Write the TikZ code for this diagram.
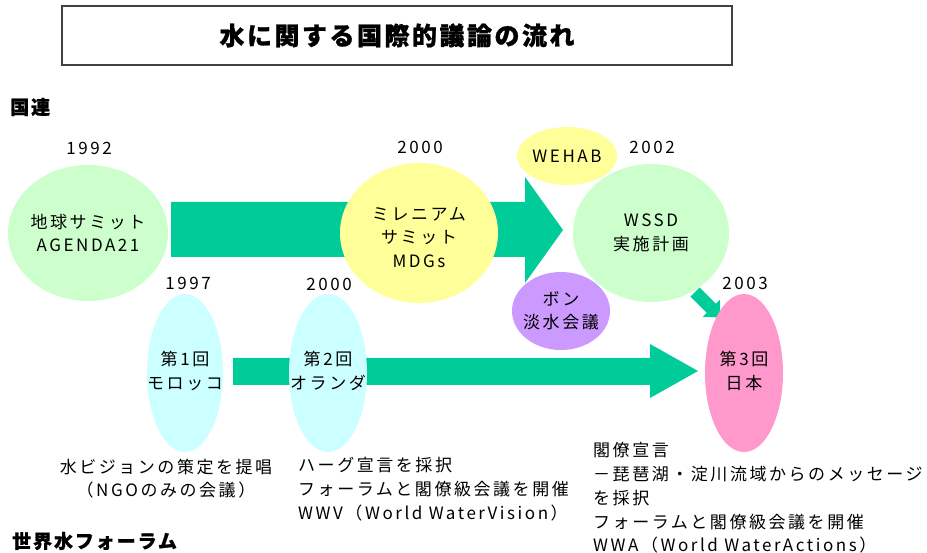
\documentclass[tikz,border=0pt]{standalone}
\usepackage{fontspec}
\newfontfamily\jp{Noto Sans CJK JP}[LetterSpace=15]
\newfontfamily\jpb{Noto Sans CJK JP}[LetterSpace=10, BoldFeatures={FakeBold=0.8}]
\newfontfamily\jpt{Noto Sans CJK JP}[LetterSpace=10, BoldFeatures={FakeBold=1}]
\usetikzlibrary{shapes.geometric}
\definecolor{arrowgreen}{HTML}{00CC99}
\definecolor{lgreen}{HTML}{CCFFCC}
\definecolor{lyellow}{HTML}{FFFF99}
\definecolor{lcyan}{HTML}{CCFFFF}
\definecolor{lpurple}{HTML}{CC99FF}
\definecolor{lpink}{HTML}{FF99CC}
\definecolor{boxgray}{HTML}{404040}
\tikzset{
  txt/.style={font={\jp\fontsize{17}{23.5}\selectfont}, inner sep=0pt, text=black, align=center},
  blob/.style={ellipse, inner sep=0pt},
  lbl/.style={font={\jpb\bfseries\fontsize{19}{22}\selectfont}, inner sep=0pt},
  titlebox/.style={draw=boxgray, line width=2.5pt, fill=white, inner sep=0pt,
    minimum width=670pt, minimum height=59pt,
    font={\jpt\bfseries\fontsize{25}{28}\selectfont}},
  bigarrow/.style={fill=arrowgreen}
}
\begin{document}
\begin{tikzpicture}[x=1pt,y=-1pt]
\useasboundingbox (0,0) rectangle (927,553);
\fill[white] (0,0) rectangle (927,553);

% title and section labels
\node[titlebox] (title) at (397,35.5) {水に関する国際的議論の流れ};
\node[lbl, anchor=west] (un) at (10,107) {国連};
\node[lbl, anchor=west] (wwf) at (12,541) {世界水フォーラム};

% block arrows
\fill[bigarrow] (171,202) -- (525,202) -- (525,177) -- (563,230) -- (525,283) -- (525,257) -- (171,257) -- cycle;
\fill[bigarrow] (233,358) -- (650,358) -- (650,344) -- (698,371) -- (650,398) -- (650,385) -- (233,385) -- cycle;
\fill[bigarrow] (690.4,296.6) -- (706.7,312.9) -- (702.8,316.8) -- (720.5,317.5) -- (719.8,299.8) -- (715.9,303.7) -- (699.6,287.4) -- cycle;

% UN ellipses
\node[blob, fill=lgreen, minimum width=160pt, minimum height=136pt] (earth) at (88,233) {};
\node[blob, fill=lyellow, minimum width=158pt, minimum height=140pt] (mill) at (419,233) {};
\node[blob, fill=lyellow, minimum width=100pt, minimum height=58pt] (wehab) at (567,156) {};
\node[blob, fill=lgreen, minimum width=156pt, minimum height=138pt] (wssd) at (651,233) {};
\node[blob, fill=lpurple, minimum width=98pt, minimum height=78pt] (bonn) at (561,311) {};

% forum ellipses
\node[blob, fill=lcyan, minimum width=76pt, minimum height=158pt] (f1) at (185,373) {};
\node[blob, fill=lcyan, minimum width=78pt, minimum height=158pt] (f2) at (328,373) {};
\node[blob, fill=lpink, minimum width=78pt, minimum height=158pt] (f3) at (744,373) {};

% ellipse texts
\node[txt] (earthT) at (earth.center) {地球サミット\\AGENDA21};
\node[txt] (millT) at ([yshift=-4.5pt]mill.center) {ミレニアム\\サミット\\MDGs};
\node[txt] (wehabT) at (wehab.center) {WEHAB};
\node[txt] (wssdT) at (wssd.center) {WSSD\\実施計画};
\node[txt] (bonnT) at (bonn.center) {ボン\\淡水会議};
\node[txt] (f1T) at ([yshift=2pt]f1.center) {第1回\\モロッコ};
\node[txt] (f2T) at ([yshift=2pt]f2.center) {第2回\\オランダ};
\node[txt] (f3T) at ([yshift=2pt]f3.center) {第3回\\日本};

% years
\node[txt] (y1992) at (89,148) {1992};
\node[txt] (y2000a) at (420,147) {2000};
\node[txt] (y2002) at (652,147) {2002};
\node[txt] (y1997) at (188,283) {1997};
\node[txt] (y2000b) at (329,284) {2000};
\node[txt] (y2003) at (745,283) {2003};

% notes
\node[txt] (m1a) at (166,467) {水ビジョンの策定を提唱};
\node[txt] (m1b) at (166,490) {（NGOのみの会議）};
\node[txt, anchor=west] (h1) at (298,465) {ハーグ宣言を採択};
\node[txt, anchor=west] (h2) at (298,489) {フォーラムと閣僚級会議を開催};
\node[txt, anchor=west] (h3) at (298,513) {WWV（World WaterVision）};
\node[txt, anchor=west] (j1) at (593,450) {閣僚宣言};
\node[txt, anchor=west] (j2) at (593,474) {－琵琶湖・淀川流域からのメッセージ};
\node[txt, anchor=west] (j3) at (593,498) {を採択};
\node[txt, anchor=west] (j4) at (593,522) {フォーラムと閣僚級会議を開催};
\node[txt, anchor=west] (j5) at (593,545) {WWA（World WaterActions）};
\end{tikzpicture}
\end{document}
